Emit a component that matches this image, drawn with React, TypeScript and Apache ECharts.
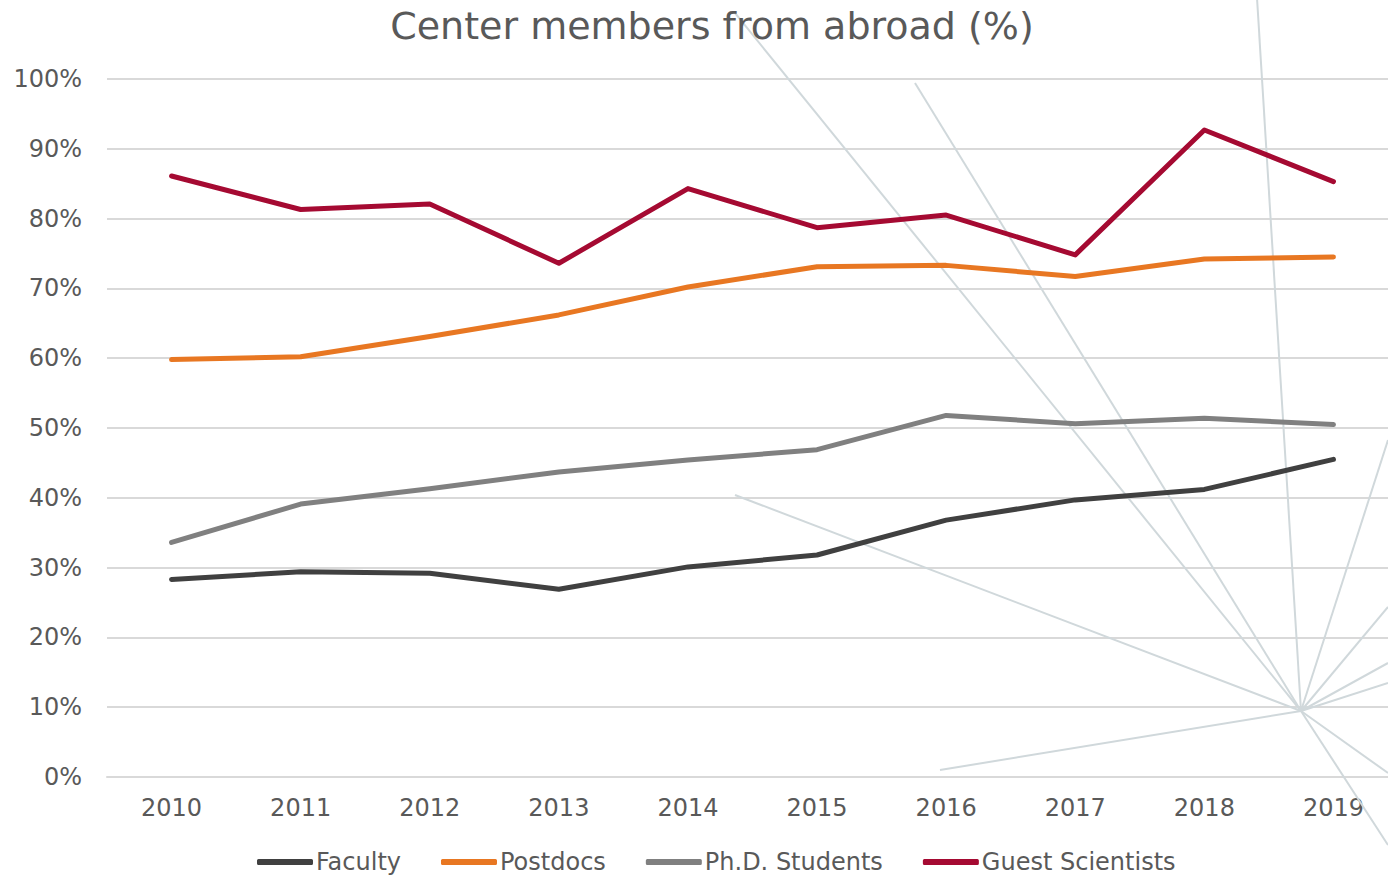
import React, { useEffect, useRef } from "react";
import * as echarts from "echarts";

const years = ["2010", "2011", "2012", "2013", "2014", "2015", "2016", "2017", "2018", "2019"];
const faculty = [28.3, 29.4, 29.2, 26.9, 30.1, 31.8, 36.8, 39.7, 41.2, 45.5];
const postdocs = [59.8, 60.2, 63.1, 66.2, 70.2, 73.1, 73.3, 71.7, 74.2, 74.5];
const phdStudents = [33.6, 39.1, 41.3, 43.7, 45.4, 46.9, 51.8, 50.6, 51.4, 50.5];
const guestScientists = [86.1, 81.3, 82.1, 73.6, 84.3, 78.7, 80.5, 74.8, 92.7, 85.3];

const seriesNames = ["Faculty", "Postdocs", "Ph.D. Students", "Guest Scientists"];
const seriesColors = ["#404040", "#E87722", "#808080", "#A50A32"];

// decorative background star (center and ray ends, in pixels)
const starCenter = [1301, 711];
const starEnds = [
  [735, 13], [915, 83], [1257, -2], [1388, 440], [1388, 607], [1388, 663],
  [1388, 683], [1388, 773], [1388, 845], [735, 495], [940, 770],
];

const FONT = "DejaVu Sans";
const TEXT = "#595959";

export default function App() {
  const ref = useRef<HTMLDivElement>(null);
  useEffect(() => {
    if (!ref.current) return;
    const chart = echarts.init(ref.current, null, { renderer: "svg" });
    const data = [faculty, postdocs, phdStudents, guestScientists];
    chart.setOption({
      animation: false,
      backgroundColor: "#ffffff",
      textStyle: { fontFamily: FONT },
      title: {
        text: "Center members from abroad (%)",
        left: 707,
        textAlign: "center",
        top: 2,
        textStyle: { fontFamily: FONT, fontSize: 38, fontWeight: "normal", color: TEXT },
      },
      graphic: starEnds.map((e) => ({
        type: "line",
        z: 1,
        shape: { x1: starCenter[0], y1: starCenter[1], x2: e[0], y2: e[1] },
        style: { stroke: "#d0d8db", lineWidth: 2 },
        silent: true,
      })),
      legend: {
        left: 257,
        top: 850,
        padding: 0,
        itemWidth: 56,
        itemHeight: 6,
        itemGap: 40,
        icon: "roundRect",
        textStyle: { fontFamily: FONT, fontSize: 24, color: TEXT, padding: [0, 0, 0, -2] },
        data: seriesNames,
      },
      grid: { left: 107, right: 2, top: 79, bottom: 99, containLabel: false },
      xAxis: {
        type: "category",
        data: years,
        boundaryGap: true,
        axisLine: { show: true, lineStyle: { color: "#d9d9d9", width: 2 } },
        axisTick: { show: false },
        axisLabel: { color: TEXT, fontFamily: FONT, fontSize: 24, margin: 19 },
      },
      yAxis: {
        type: "value",
        min: 0,
        max: 100,
        interval: 10,
        axisLine: { show: false },
        axisTick: { show: false },
        splitLine: { lineStyle: { color: "#d9d9d9", width: 2 } },
        axisLabel: { color: TEXT, fontFamily: FONT, fontSize: 24, margin: 25, formatter: "{value}%" },
      },
      series: seriesNames.map((n, i) => ({
        name: n,
        type: "line",
        data: data[i],
        z: 3,
        showSymbol: false,
        symbol: "none",
        color: seriesColors[i],
        lineStyle: { color: seriesColors[i], width: 5, cap: "round", join: "round" },
      })),
    });
    return () => chart.dispose();
  }, []);
  return (
    <div style={{ position: "fixed", left: 0, top: 0, width: 1388, height: 876, overflow: "hidden" }}>
      <div ref={ref} style={{ width: 1400, height: 876 }} />
    </div>
  );
}
